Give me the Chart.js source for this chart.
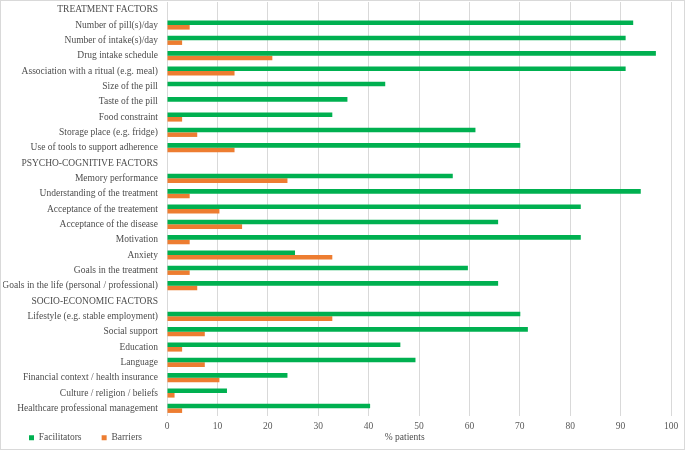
<!DOCTYPE html>
<html>
<head>
<meta charset="utf-8">
<script src="https://cdn.jsdelivr.net/npm/chart.js@4.4.1/dist/chart.umd.min.js"></script>
<style>
  html, body { margin: 0; padding: 0; background: #fff; }
  #wrap { width: 685px; height: 450px; box-sizing: border-box; border: 1px solid #d9d9d9; }
</style>
</head>
<body>
<div id="wrap"><canvas id="FACTORSCHART" width="683" height="448"></canvas></div>
<script>
const factors = [
  'TREATMENT FACTORS',
  'Number of pill(s)/day',
  'Number of intake(s)/day',
  'Drug intake schedule',
  'Association with a ritual (e.g. meal)',
  'Size of the pill',
  'Taste of the pill',
  'Food constraint',
  'Storage place (e.g. fridge)',
  'Use of tools to support adherence',
  'PSYCHO-COGNITIVE FACTORS',
  'Memory performance',
  'Understanding of the treatment',
  'Acceptance of the treatement',
  'Acceptance of the disease',
  'Motivation',
  'Anxiety',
  'Goals in the treatment',
  'Goals in the life (personal / professional)',
  'SOCIO-ECONOMIC FACTORS',
  'Lifestyle (e.g. stable employment)',
  'Social support',
  'Education',
  'Language',
  'Financial context / health insurance',
  'Culture / religion / beliefs',
  'Healthcare professional management'
];

// % patients, null = section header row
const facilitators = [
  null, 92.5, 91.0, 97.0, 91.0, 43.3, 35.8, 32.8, 61.2, 70.1,
  null, 56.7, 94.0, 82.1, 65.7, 82.1, 25.4, 59.7, 65.7,
  null, 70.1, 71.6, 46.3, 49.3, 23.9, 11.9, 40.3
];
const barriers = [
  null, 4.5, 3.0, 20.9, 13.4, 0, 0, 3.0, 6.0, 13.4,
  null, 23.9, 4.5, 10.4, 14.9, 4.5, 32.8, 4.5, 6.0,
  null, 32.8, 7.5, 3.0, 7.5, 10.4, 1.5, 3.0
];

const xTicks = [0, 10, 20, 30, 40, 50, 60, 70, 80, 90, 100];

const serif = { family: '"Liberation Serif", "DejaVu Serif", serif', size: 9.5 };
const textColor = '#4d4d4d';
const ctx = document.getElementById('FACTORSCHART');

// nudge the bottom legend to the right, under the labels
const legendShift = {
  id: 'legendShift',
  afterLayout: (chart) => { chart.legend.left += 22; }
};

const factors_chart = new Chart(ctx, {
    type: 'bar',
    data: {
      labels: factors,
      datasets: [{
        label: 'Facilitators',
        data: facilitators,
        backgroundColor: '#00B050',
        borderWidth: 0
      }, {
        label: 'Barriers',
        data: barriers,
        backgroundColor: '#ED7D31',
        borderWidth: 0
      }]
    },
    plugins: [legendShift],
    options: {
      indexAxis: 'y',
      responsive: false,
      animation: false,
      categoryPercentage: 0.6,
      barPercentage: 1.0,
      layout: {
        padding: { left: 2, right: 13, top: 1, bottom: 0 }
      },
      scales: {
        x: {
          min: 0,
          max: 100,
          afterBuildTicks: (scale) => {
            scale.ticks = xTicks.map(v => ({ value: v }));
          },
          grid: { color: '#d9d9d9', drawTicks: false },
          border: { display: false },
          ticks: { color: '#595959', font: serif, padding: 5 },
          title: {
            display: true,
            // trailing spaces move it a bit left of the plot centre, as in the original
            text: '% patients\u2003\u2003\u2003',
            color: textColor,
            font: serif,
            // pulled down so it sits on the legend row
            padding: { top: 1, bottom: -13.7 }
          },
          afterFit: (scale) => { scale.height = 13; }
        },
        y: {
          grid: { display: false, tickLength: 9 },
          border: { display: false },
          ticks: { color: textColor, font: serif, autoSkip: false, padding: 0 },
          afterFit: (scale) => {
            scale.width = 164;
            scale.paddingTop = 0;
            scale.paddingBottom = 0;
          }
        }
      },
      plugins: {
        tooltip: { enabled: false },
        legend: {
          position: 'bottom',
          align: 'start',
          maxHeight: 20,
          labels: {
            color: textColor,
            font: serif,
            boxWidth: 5,
            boxHeight: 5,
            padding: 4,
            generateLabels: (chart) => {
              const items = Chart.defaults.plugins.legend.labels.generateLabels(chart);
              items.forEach(it => { it.text = it.text + '\u2003\u2002\u2009'; });
              return items;
            }
          }
        }
      }
    }
});
</script>
</body>
</html>
